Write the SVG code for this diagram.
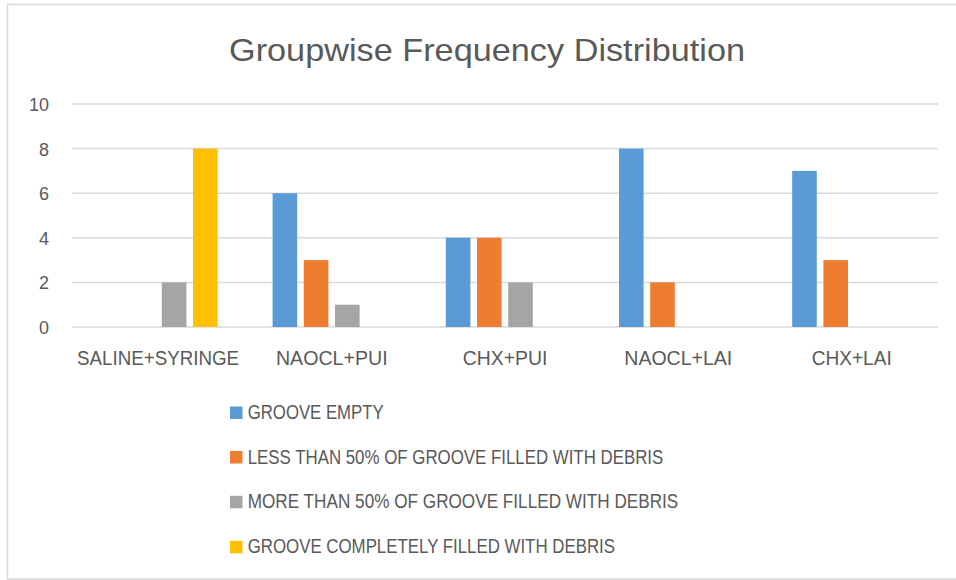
<svg xmlns="http://www.w3.org/2000/svg" width="956" height="580" viewBox="0 0 956 580">
<style>
text{font-family:"Liberation Sans",Arial,sans-serif;fill:#595959}
.grid{stroke:#D9D9D9;stroke-width:1.5}
.ax{font-size:18px;text-anchor:end}
.cat{font-size:20px;text-anchor:middle}
.leg{font-size:20px}
.s1{fill:#5B9BD5}.s2{fill:#ED7D31}.s3{fill:#A5A5A5}.s4{fill:#FFC000}
</style>
<rect x="0" y="0" width="956" height="580" fill="#fff"/>
<rect x="7.5" y="4.5" width="960" height="574.5" fill="none" stroke="#D9D9D9" stroke-width="1.5"/>
<text x="487" y="61" font-size="32" text-anchor="middle" textLength="516" lengthAdjust="spacingAndGlyphs">Groupwise Frequency Distribution</text>
<g id="gridlines">
<line class="grid" x1="72" y1="104" x2="938" y2="104"/>
<line class="grid" x1="72" y1="148.6" x2="938" y2="148.6"/>
<line class="grid" x1="72" y1="193.2" x2="938" y2="193.2"/>
<line class="grid" x1="72" y1="237.8" x2="938" y2="237.8"/>
<line class="grid" x1="72" y1="282.4" x2="938" y2="282.4"/>
<line class="grid" x1="72" y1="327" x2="938" y2="327"/>
</g>
<g id="yaxis">
<text class="ax" x="49" y="111">10</text>
<text class="ax" x="49" y="155.6">8</text>
<text class="ax" x="49" y="200.2">6</text>
<text class="ax" x="49" y="244.8">4</text>
<text class="ax" x="49" y="289.4">2</text>
<text class="ax" x="49" y="334">0</text>
</g>
<g id="bars">
<rect class="s3" x="161.8" y="282.4" width="24.6" height="44.6"/>
<rect class="s4" x="193" y="148.6" width="24.6" height="178.4"/>
<rect class="s1" x="272.6" y="193.2" width="24.6" height="133.8"/>
<rect class="s2" x="303.8" y="260.1" width="24.6" height="66.9"/>
<rect class="s3" x="335" y="304.7" width="24.6" height="22.3"/>
<rect class="s1" x="445.8" y="237.8" width="24.6" height="89.2"/>
<rect class="s2" x="477" y="237.8" width="24.6" height="89.2"/>
<rect class="s3" x="508.2" y="282.4" width="24.6" height="44.6"/>
<rect class="s1" x="619" y="148.6" width="24.6" height="178.4"/>
<rect class="s2" x="650.2" y="282.4" width="24.6" height="44.6"/>
<rect class="s1" x="792.2" y="170.9" width="24.6" height="156.1"/>
<rect class="s2" x="823.4" y="260.1" width="24.6" height="66.9"/>
</g>
<g id="categories">
<text class="cat" x="158" y="365" textLength="162" lengthAdjust="spacingAndGlyphs">SALINE+SYRINGE</text>
<text class="cat" x="331.8" y="365" textLength="111.7" lengthAdjust="spacingAndGlyphs">NAOCL+PUI</text>
<text class="cat" x="505" y="365" textLength="84.6" lengthAdjust="spacingAndGlyphs">CHX+PUI</text>
<text class="cat" x="678.3" y="365" textLength="108" lengthAdjust="spacingAndGlyphs">NAOCL+LAI</text>
<text class="cat" x="851.7" y="365" textLength="80" lengthAdjust="spacingAndGlyphs">CHX+LAI</text>
</g>
<g id="legend">
<g id="leg1"><rect class="s1" x="230" y="406.5" width="12.5" height="12.5"/><text class="leg" x="247.7" y="419" textLength="136" lengthAdjust="spacingAndGlyphs">GROOVE EMPTY</text></g>
<g id="leg2"><rect class="s2" x="230" y="451" width="12.5" height="12.5"/><text class="leg" x="247.7" y="463.5" textLength="415.6" lengthAdjust="spacingAndGlyphs">LESS THAN 50% OF GROOVE FILLED WITH DEBRIS</text></g>
<g id="leg3"><rect class="s3" x="230" y="495.8" width="12.5" height="12.5"/><text class="leg" x="247.7" y="508.3" textLength="430.6" lengthAdjust="spacingAndGlyphs">MORE THAN 50% OF GROOVE FILLED WITH DEBRIS</text></g>
<g id="leg4"><rect class="s4" x="230" y="540.8" width="12.5" height="12.5"/><text class="leg" x="247.7" y="553.3" textLength="367.3" lengthAdjust="spacingAndGlyphs">GROOVE COMPLETELY FILLED WITH DEBRIS</text></g>
</g>
</svg>
